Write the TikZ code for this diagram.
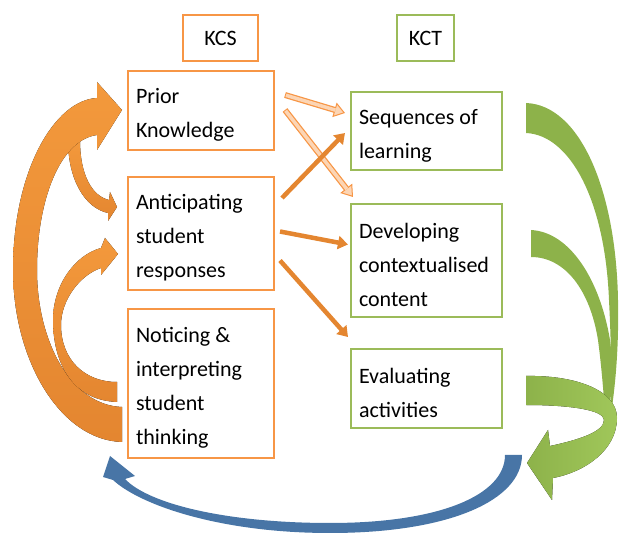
\documentclass[tikz,border=0pt]{standalone}
\usepackage{fontspec}
\setmainfont{Carlito}
\usetikzlibrary{arrows.meta,calc}

\definecolor{kcsorange}{RGB}{247,150,70}
\definecolor{kctgreen}{RGB}{155,187,89}
\definecolor{arrorange}{RGB}{228,134,48}
\definecolor{arrorangelt}{RGB}{243,153,60}
\definecolor{paleorange}{RGB}{252,213,180}
\definecolor{arrgreen}{RGB}{141,178,74}
\definecolor{arrgreenlt}{RGB}{160,199,90}
\definecolor{arrblue}{RGB}{72,117,166}

\tikzset{
  box/.style={draw, line width=2pt, anchor=north west, align=flush left, inner xsep=8pt, inner ysep=0pt,
    font=\fontsize{22}{34}\selectfont, execute at begin node={\rule{0pt}{24pt}}},
  kcsbox/.style={box, draw=kcsorange, text width=130pt},
  kctbox/.style={box, draw=kctgreen, text width=135pt},
  titlebox/.style={draw, line width=2pt, minimum height=46pt, font=\fontsize{22}{26}\selectfont},
  solidarr/.style={arrorange, line width=4.5pt, -{Triangle[length=10pt,width=13pt]}},
  palearr/.style={kcsorange, line width=6pt, -{Triangle[length=11pt,width=15pt,fill=paleorange,line width=1pt]}},
  paleinner/.style={paleorange, line width=3.5pt, shorten >=10pt, shorten <=1pt},
  orangeband/.style={top color=arrorangelt, bottom color=arrorange, draw=none},
}

\begin{document}
\begin{tikzpicture}[x=1pt,y=-1pt]
        \useasboundingbox (0,0) rectangle (619,534);

        % headings
        \node[titlebox, draw=kcsorange, minimum width=75pt] (kcs) at (220.5,38) {KCS};
        \node[titlebox, draw=kctgreen, minimum width=57pt] (kct) at (425.5,38) {KCT};

        % KCS column
        \node[kcsbox, minimum height=79pt] (prior) at (127,70) {Prior\\Knowledge};
        \node[kcsbox, minimum height=113pt] (ant) at (127,176) {Anticipating\\student\\responses};
        \node[kcsbox, minimum height=149pt] (noti) at (127,308) {Noticing \&\\interpreting\\student\\thinking};

        % KCT column
        \node[kctbox, minimum height=78pt] (seq) at (350,91) {Sequences of\\learning};
        \node[kctbox, minimum height=113pt] (dev) at (350,203) {Developing\\contextualised\\content};
        \node[kctbox, minimum height=79pt] (eval) at (350,348) {Evaluating\\activities};

        % links KCS -> KCT
        \draw[palearr] ($(prior.north east)+(10,25)$) -- ($(seq.west)+(-5,-18)$);
        \draw[paleinner] ($(prior.north east)+(10,25)$) -- ($(seq.west)+(-5,-18)$);
        \draw[palearr] ($(prior.north east)+(10,40)$) -- ($(dev.north west)+(3,-6)$);
        \draw[paleinner] ($(prior.north east)+(10,40)$) -- ($(dev.north west)+(3,-6)$);
        \draw[solidarr] ($(ant.north east)+(7,22)$) -- ($(seq.west)+(-5,2)$);
        \draw[solidarr] ($(ant.east)+(5,-2)$) -- ($(dev.west)+(-2,-16)$);
        \draw[solidarr] ($(ant.east)+(5,27)$) -- ($(eval.north west)+(-2,-11)$);

        % orange loops on the left
        \fill[orangeband] (68,140) .. controls (68,180) and (85,208) .. (108,213) -- (108,221)
            -- (117,207) -- (110,192) -- (109,200) .. controls (92,196) and (80,175) .. (80,140) -- cycle;
        \fill[orangeband] (122,442) .. controls (60,440) and (13,360) .. (13,270)
            .. controls (13,170) and (55,100) .. (97,98) -- (97,82) -- (122,110) -- (97,150) -- (97,135)
            .. controls (60,140) and (37,200) .. (37,270) .. controls (37,340) and (70,405) .. (122,407) -- cycle;
        \fill[orangeband] (117,402) .. controls (70,400) and (53,360) .. (53,320)
            .. controls (53,285) and (75,255) .. (101,248) -- (105,238) -- (118,254) -- (101,275) -- (101,268)
            .. controls (80,275) and (61,300) .. (61,325) .. controls (61,360) and (85,382) .. (117,382) -- cycle;

        % green loops on the right
        \fill[arrgreen] (526,103) .. controls (580,105) and (616,190) .. (618,300)
            .. controls (619,350) and (615,390) .. (610,420) .. controls (612,380) and (611,340) .. (609,300)
            .. controls (605,200) and (570,135) .. (526,133) -- cycle;
        \fill[arrgreen] (531,230) .. controls (570,232) and (600,280) .. (610,340)
            .. controls (614,370) and (612,400) .. (606,425) .. controls (604,400) and (602,370) .. (598,340)
            .. controls (590,290) and (565,257) .. (531,257) -- cycle;
        \fill[left color=arrgreen, right color=arrgreenlt] (526,376) .. controls (575,375) and (617,390) .. (617,418)
            .. controls (617,450) and (585,472) .. (553,478) -- (552,500) -- (527,463) -- (548,430) -- (550,446)
            .. controls (578,440) and (604,432) .. (604,420) .. controls (604,410) and (570,405) .. (526,405) -- cycle;

        % blue return
        \fill[arrblue] (522,455) .. controls (522,500) and (450,533) .. (330,533)
            .. controls (220,533) and (140,505) .. (113,480) -- (103,477) -- (110,456) -- (135,476) -- (125,479)
            .. controls (150,505) and (230,523) .. (330,523) .. controls (440,523) and (505,495) .. (505,455) -- cycle;
\end{tikzpicture}
\end{document}
